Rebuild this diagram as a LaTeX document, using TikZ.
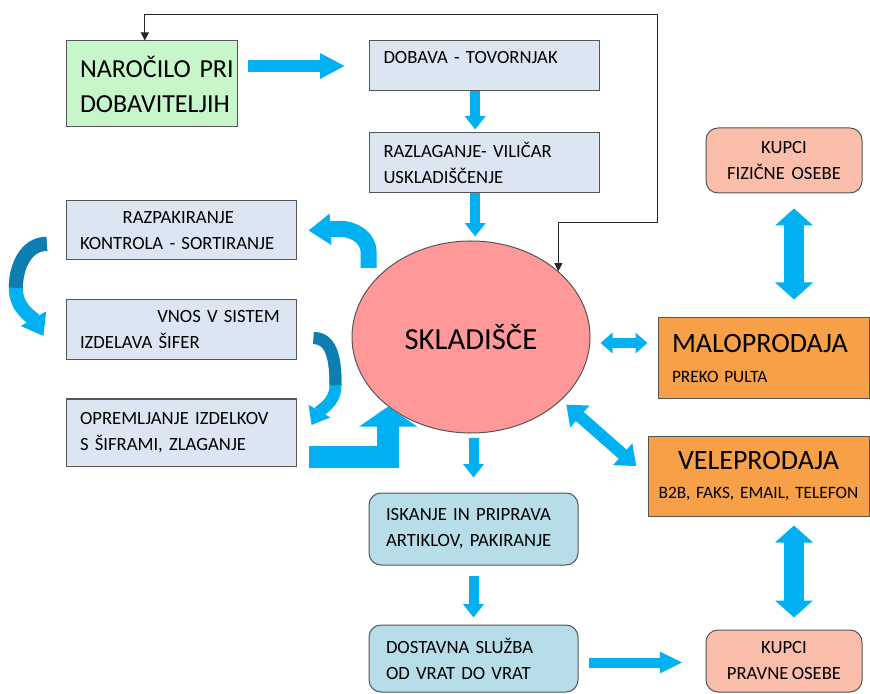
\documentclass[tikz,border=0pt]{standalone}
\usepackage{fontspec}
\setmainfont{Carlito}[WordSpace=0.8]
\usepackage{tikz}
\usetikzlibrary{shapes.geometric, arrows.meta, positioning}

\definecolor{edgegray}{RGB}{85,85,85}
\definecolor{ordergreen}{RGB}{199,246,202}
\definecolor{stepblue}{RGB}{220,230,242}
\definecolor{storepink}{RGB}{255,153,153}
\definecolor{buyerpink}{RGB}{251,190,170}
\definecolor{saleorange}{RGB}{247,160,72}
\definecolor{shipblue}{RGB}{183,222,232}
\definecolor{arrblue}{RGB}{0,176,240}
\definecolor{arrdark}{RGB}{14,126,176}

\begin{document}
\begin{tikzpicture}[x=0.75pt, y=0.75pt,
    box/.style={draw=edgegray, line width=0.75pt, inner sep=0pt, align=left,
                font=\fontsize{14}{19.5}\selectfont},
    stepbox/.style={box, fill=stepblue, minimum width=172.5pt, text width=151.5pt},
    buyer/.style={box, fill=buyerpink, rounded corners=9pt, align=center,
                  minimum width=117pt, font=\fontsize{14}{19.5}\selectfont},
    sale/.style={box, fill=saleorange},
    ship/.style={box, fill=shipblue, rounded corners=9pt, minimum width=156.75pt, text width=131.25pt},
    pipe/.style={draw=arrblue, line width=7.5pt, -{Triangle[length=10pt,width=15pt]}},
    twoway/.style={draw=arrblue, line width=15pt,
                   {Triangle[length=12.75pt,width=27.75pt]}-{Triangle[length=12.75pt,width=27.75pt]}},
    twist/.style={draw=arrblue, line width=#1},
    link/.style={draw=black!85, line width=0.6pt,
                 {Triangle[length=6pt,width=6pt]}-{Triangle[length=6pt,width=6pt]}}
  ]
  \clip (0,0) rectangle (870,693);

  % supply side
  \node[box, fill=ordergreen, minimum width=128.25pt, minimum height=64.5pt, text width=107.25pt,
        font=\fontsize{19.5}{26.25}\selectfont] (naro) at (151.5,609) {NAROČILO~PRI\\DOBAVITELJIH};
  \node[stepbox, minimum height=37.5pt, text depth=13pt] (dobava) at (484.5,627) {DOBAVA - TOVORNJAK};
  \node[stepbox, minimum height=45pt] (razlag) at (484.5,530) {RAZLAGANJE- VILIČAR\\USKLADIŠČENJE};
  \node[stepbox, minimum height=44.25pt] (razpak) at (181,462.5) {\hspace*{32pt}RAZPAKIRANJE\\KONTROLA~-~SORTIRANJE};
  \node[stepbox, minimum height=45pt] (vnos) at (181,363) {\hspace*{58pt}VNOS~V~SISTEM\\IZDELAVA ŠIFER};
  \node[stepbox, minimum height=50.25pt] (oprem) at (181,260.5) {OPREMLJANJE~IZDELKOV\\S ŠIFRAMI, ZLAGANJE};

  \node[ellipse, draw=edgegray, line width=0.75pt, fill=storepink, minimum width=178.5pt,
        minimum height=144pt, inner sep=0pt, font=\fontsize{23}{28}\selectfont] (skl) at (471,356) {SKLADIŠČE};

  % sales side
  \node[buyer, minimum height=48.75pt] (fiz) at (784,532.5) {KUPCI\\FIZIČNE\ \ OSEBE};
  \node[sale, minimum width=158.25pt, minimum height=60.75pt, text width=137.25pt,
        font=\fontsize{13}{22.5}\selectfont] (malo) at (763.5,334.5)
        {{\fontsize{21}{22.5}\selectfont MALOPRODAJA}\\PREKO PULTA};
  \node[sale, align=center, minimum width=165.75pt, minimum height=60pt, text width=150.75pt,
        font=\fontsize{13}{22}\selectfont] (vele) at (758.5,217)
        {{\fontsize{21}{22}\selectfont VELEPRODAJA}\\B2B,~FAKS,~EMAIL,~TELEFON};
  \node[ship, minimum height=54pt] (isk) at (473.5,164) {ISKANJE~IN~PRIPRAVA\\ARTIKLOV,~PAKIRANJE};
  \node[ship, minimum height=50.25pt] (dost) at (473.5,34.5) {DOSTAVNA SLUŽBA\\OD VRAT DO VRAT};
  \node[buyer, minimum height=46.5pt] (pravne) at (784,32) {KUPCI\\PRAVNE OSEBE};

  % straight flow
  \draw[pipe, line width=9pt, -{Triangle[length=18.75pt,width=18pt]}, shorten <=7.5pt, shorten >=18pt]
        (naro.east |- dobava.west) -- (dobava.west);
  \draw[pipe, shorten >=2.25pt] ([xshift=-7pt]dobava.south) -- ([xshift=-7pt]razlag.north);
  \draw[pipe, shorten >=3pt] ([xshift=-7pt]razlag.south) -- ([xshift=-7pt]razlag.south |- skl.north);
  \draw[pipe, shorten <=3pt, shorten >=11.25pt] (isk.north |- skl.south) -- (isk.north);
  \draw[pipe, shorten <=7.5pt, shorten >=5.25pt] (isk.south) -- (dost.north);
  \draw[pipe, -{Triangle[length=17pt,width=15pt]}, shorten <=7.5pt, shorten >=17.25pt]
        ([yshift=-3pt]dost.east) -- ([yshift=-3pt]dost.east -| pravne.west);

  % customers
  \draw[twoway, shorten <=11.25pt, shorten >=13.5pt]
        ([xshift=7.5pt]fiz.south) -- ([xshift=7.5pt]fiz.south |- malo.north);
  \draw[twoway, shorten <=9pt, shorten >=6.75pt]
        ([xshift=7.5pt]pravne.north) -- ([xshift=7.5pt]pravne.north |- vele.south);
  \draw[twoway, line width=7.5pt, {Triangle[length=9pt,width=15pt]}-{Triangle[length=9pt,width=15pt]},
        shorten <=7.5pt, shorten >=7.5pt]
        ([yshift=-4.5pt]skl.east) -- ([yshift=-4.5pt]skl.east -| malo.west);
  \draw[twoway, line width=9pt, {Triangle[length=13.5pt,width=21pt]}-{Triangle[length=13.5pt,width=21pt]},
        shorten <=5pt, shorten >=11.25pt]
        (skl.325) -- (vele.west);

  % inner loop
  \draw[twist=12pt, -{Triangle[length=16.5pt,width=22.5pt]}]
        ([shift={(-9pt,4.5pt)}]skl.145) -- ++(0,15) to[out=90,in=0] ++(-29,24) -- ([xshift=9pt]razpak.east);
  \draw[twist=10.5pt, -{Triangle[length=15pt,width=21pt]}]
        ([shift={(-14pt,-10pt)}]razpak.west) to[out=180,in=90] ++(-31,-44)
        to[out=-90,in=120] ([shift={(-16.5pt,-4.5pt)}]vnos.west);
  \draw[twist=10.5pt, draw=arrdark]
        ([shift={(-14pt,-10pt)}]razpak.west) to[out=180,in=90] ++(-31,-44);
  \draw[twist=9pt, -{Triangle[length=12pt,width=18pt]}]
        ([shift={(12.75pt,-6pt)}]vnos.east) to[out=0,in=90] ++(22,-47)
        to[out=-90,in=60] ([shift={(11.25pt,5.6pt)}]oprem.east);
  \draw[twist=9pt, draw=arrdark]
        ([shift={(12.75pt,-6pt)}]vnos.east) to[out=0,in=90] ++(22,-47);
  \draw[twist=16.5pt, -{Triangle[length=15pt,width=42.75pt]}, shorten <=9pt]
        ([yshift=-18.4pt]oprem.east) -| (skl.220);

  % reorder line
  \draw[link] ([xshift=-5pt]naro.north) -- ++(0,26) -| (657,471) -| (skl.37);
\end{tikzpicture}
\end{document}
